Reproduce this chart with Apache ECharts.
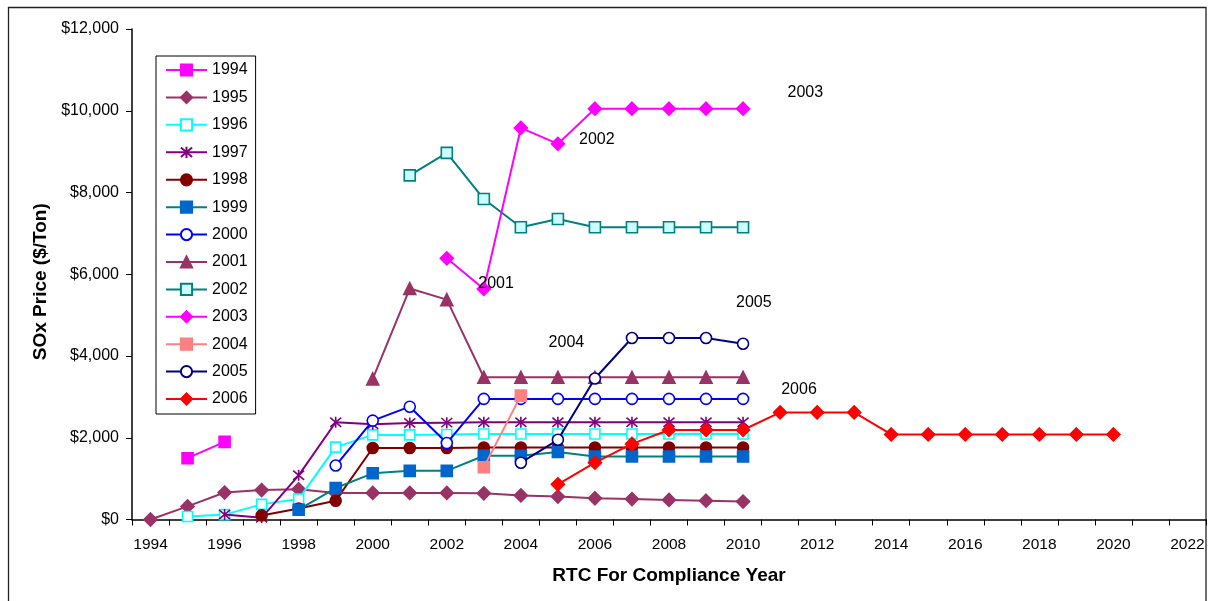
<!DOCTYPE html>
<html><head><meta charset="utf-8">
<script src="https://cdn.jsdelivr.net/npm/echarts@6/dist/echarts.min.js"></script>
<style>html,body{margin:0;padding:0;background:#fff}#c{width:1214px;height:601px}</style>
</head><body><div id="c"></div>
<script>
// ---- data ----
const categories = ['1994','1995','1996','1997','1998','1999','2000','2001','2002','2003','2004','2005','2006','2007',
  '2008','2009','2010','2011','2012','2013','2014','2015','2016','2017','2018','2019','2020','2021','2022'];
const seriesNames = ['1994','1995','1996','1997','1998','1999','2000','2001','2002','2003','2004','2005','2006'];
const startYears  = [1995, 1994, 1995, 1996, 1997, 1998, 1999, 2000, 2001, 2002, 2003, 2004, 2005];
const v1994 = [1500, 1900];
const v1995 = [0, 320, 660, 720, 740, 650, 650, 650, 650, 640, 590, 560, 520, 500, 480, 460, 440];
const v1996 = [75, 120, 370, 500, 1770, 2070, 2070, 2080, 2090, 2090, 2090, 2090, 2090, 2090, 2090, 2090];
const v1997 = [120, 40, 1080, 2380, 2330, 2360, 2370, 2380, 2380, 2380, 2380, 2380, 2380, 2380, 2380];
const v1998 = [100, 270, 460, 1750, 1750, 1750, 1760, 1760, 1760, 1760, 1760, 1760, 1760, 1760];
const v1999 = [240, 770, 1130, 1190, 1190, 1560, 1560, 1650, 1540, 1540, 1540, 1540, 1540];
const v2000 = [1320, 2420, 2760, 1870, 2950, 2950, 2950, 2950, 2950, 2950, 2950, 2950];
const v2001 = [3440, 5650, 5380, 3480, 3480, 3480, 3480, 3480, 3480, 3480, 3480];
const v2002 = [8420, 8970, 7840, 7150, 7350, 7150, 7150, 7150, 7150, 7150];
const v2003 = [6390, 5640, 9580, 9190, 10050, 10050, 10050, 10050, 10050];
const v2004 = [1280, 3030];
const v2005 = [1390, 1950, 3450, 4440, 4440, 4440, 4300];
const v2006 = [860, 1390, 1850, 2190, 2190, 2190, 2620, 2620, 2620, 2080, 2080, 2080, 2080, 2080, 2080, 2080];
const allValues = [v1994, v1995, v1996, v1997, v1998, v1999, v2000, v2001, v2002, v2003, v2004, v2005, v2006];
// text annotations: [year, value, text]
const annotations = [[2011.68, 10440, '2003'], [2006.05, 9305, '2002'], [2003.33, 5760, '2001'],
                     [2005.23, 4320, '2004'], [2010.29, 5310, '2005'], [2011.51, 3180, '2006']];
const yTickMin = 0, yTickMax = 12000, yTickStep = 2000;

// ---- styles ----
const starPath = 'path://M5,0L5,10M0.8,0.8L9.2,9.2M0.8,9.2L9.2,0.8';
const styles = [
  {sym:'rect', line:'#FF00FF', fill:'#FF00FF', border:'#FF00FF', size:11},
  {sym:'diamond', line:'#993366', fill:'#993366', border:'#993366', size:13},
  {sym:'rect', line:'#00FFFF', fill:'#FFFFFF', border:'#00FFFF', size:10},
  {sym:starPath, line:'#800080', fill:'none', border:'#800080', size:11},
  {sym:'circle', line:'#800000', fill:'#800000', border:'#800000', size:11},
  {sym:'rect', line:'#008080', fill:'#0066CC', border:'#0066CC', size:11},
  {sym:'circle', line:'#0000FF', fill:'#FFFFFF', border:'#0000FF', size:11},
  {sym:'triangle', line:'#993366', fill:'#993366', border:'#993366', size:12},
  {sym:'rect', line:'#008080', fill:'#CCFFFF', border:'#008080', size:11},
  {sym:'diamond', line:'#FF00FF', fill:'#FF00FF', border:'#FF00FF', size:13},
  {sym:'rect', line:'#FF8080', fill:'#FF8080', border:'#FF8080', size:11},
  {sym:'circle', line:'#000080', fill:'#FFFFFF', border:'#000080', size:11},
  {sym:'diamond', line:'#FF0000', fill:'#FF0000', border:'#FF0000', size:13}
];

const series = seriesNames.map((name, i) => {
  const st = styles[i];
  return {
    name, type: 'line', xAxisIndex: 0, symbol: st.sym, symbolSize: st.size, showAllSymbol: true,
    data: allValues[i].map((v, k) => [String(startYears[i] + k), v]),
    lineStyle: {color: st.line, width: 2},
    itemStyle: {color: st.fill, borderColor: st.border, borderWidth: 1.6},
    emphasis: {disabled: true}, animation: false, z: 2 + i
  };
});
series.push({
  type: 'scatter', xAxisIndex: 1, symbolSize: 0, silent: true, animation: false,
  data: annotations.map(a => ({value: [a[0], a[1]], label: {formatter: a[2]}})),
  label: {show: true, position: 'inside', color: '#000', opacity: 1, textBorderWidth: 0,
    fontSize: 16, fontFamily: 'Liberation Sans'},
  z: 30
});

const chart = echarts.init(document.getElementById('c'), null, {renderer: 'canvas'});
chart.setOption({
  backgroundColor: '#fff',
  animation: false,
  graphic: [{type: 'rect', shape: {x: 8.5, y: 7.5, width: 1197.5, height: 620}, style: {fill: 'none', stroke: '#222', lineWidth: 1.3}, z: -1, silent: true}],
  grid: {left: 132, right: 8, top: 29, bottom: 81.5, containLabel: false},
  legend: {
    orient: 'vertical', left: 156, top: 56, data: seriesNames,
    backgroundColor: '#fff', borderColor: '#000', borderWidth: 1, padding: [6, 8, 7, 9],
    itemWidth: 41, itemHeight: 14, itemGap: 11.4,
    textStyle: {fontSize: 16, lineHeight: 14, fontFamily: 'Liberation Sans', color: '#000'},
    selectedMode: false
  },
  xAxis: [{
    type: 'category', data: categories, boundaryGap: true,
    name: 'RTC For Compliance Year', nameLocation: 'middle', nameGap: 47,
    nameTextStyle: {fontSize: 19, fontWeight: 'bold', fontFamily: 'Liberation Sans', color: '#000'},
    axisLine: {show: true, onZero: false, lineStyle: {color: '#000', width: 1.5}},
    axisTick: {show: true, interval: 0, length: 6, alignWithLabel: false, lineStyle: {color: '#000'}},
    axisLabel: {interval: 1, fontSize: 15.5, fontFamily: 'Liberation Sans', color: '#000', margin: 17},
    splitLine: {show: false}
  }, {
    type: 'value', min: 1993.5, max: 2022.5, show: false
  }],
  yAxis: {
    type: 'value', min: yTickMin, max: yTickMax, interval: yTickStep,
    name: 'SOx Price ($/Ton)', nameLocation: 'middle', nameGap: 82,
    nameTextStyle: {fontSize: 19, fontWeight: 'bold', fontFamily: 'Liberation Sans', color: '#000', padding: [0, 15, 0, 0]},
    axisLine: {show: true, lineStyle: {color: '#000', width: 1.5}},
    axisTick: {show: true, length: 6, lineStyle: {color: '#000'}},
    axisLabel: {fontSize: 16, fontFamily: 'Liberation Sans', color: '#000', margin: 13,
      formatter: v => '$' + Number(v).toLocaleString('en-US')},
    splitLine: {show: false}
  },
  series
});
</script></body></html>
